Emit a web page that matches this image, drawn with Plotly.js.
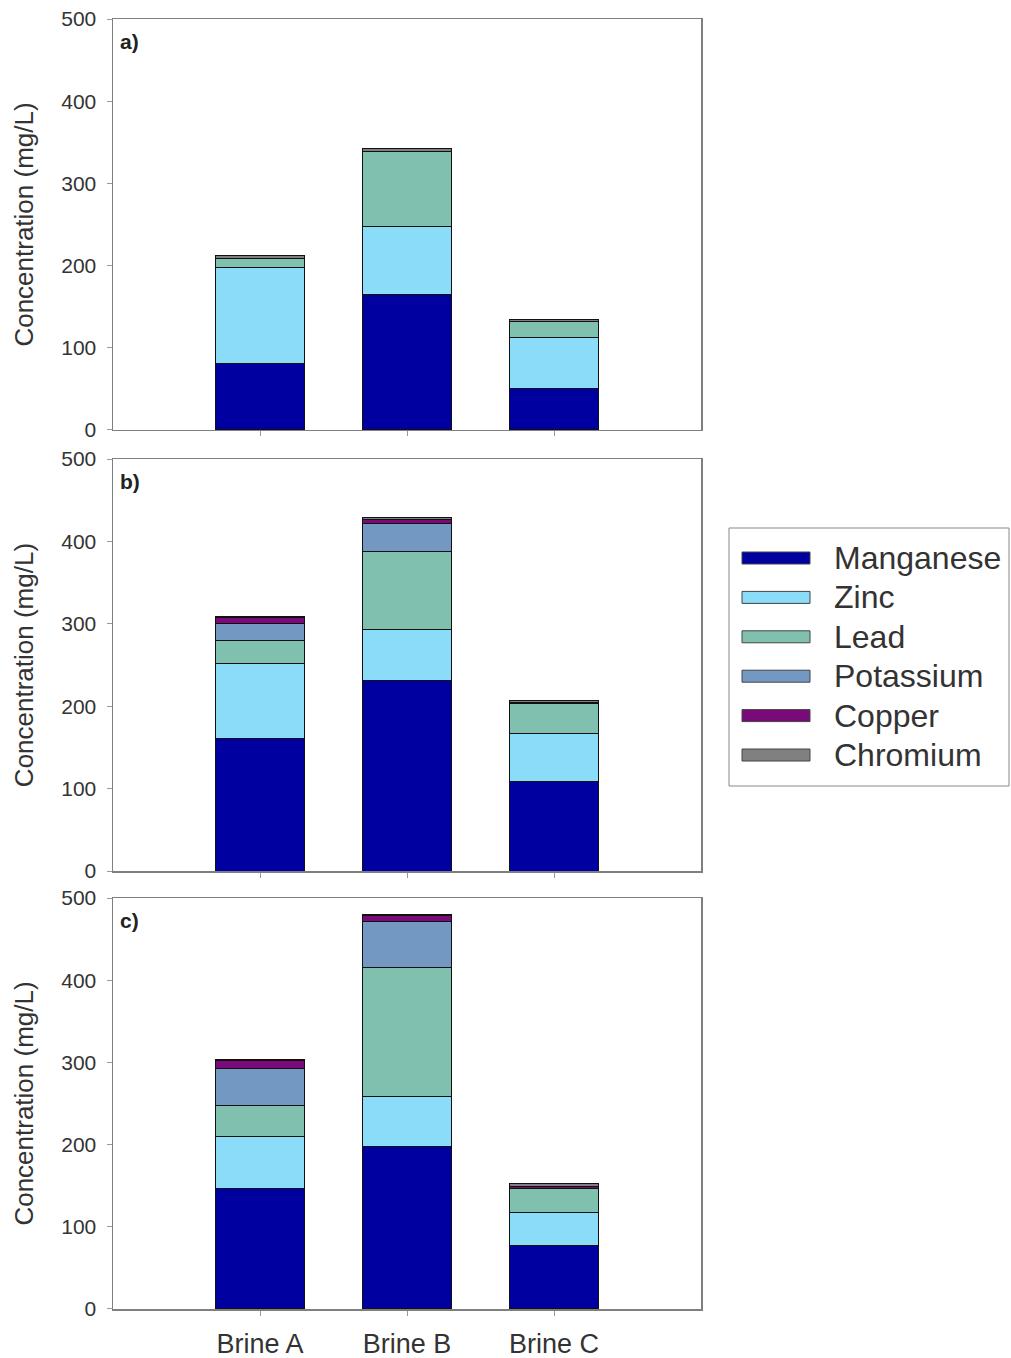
<!DOCTYPE html>
<html>
<head>
<meta charset="utf-8">
<script src="https://cdn.plot.ly/plotly-3.0.1.min.js"></script>
<style>html,body{margin:0;padding:0;background:#fff;}#chart{width:1011px;height:1358px;}</style>
</head>
<body>
<div id="chart"></div>
<script>
// ---- Data ----
const categories = ['Brine A', 'Brine B', 'Brine C'];
const elements = ['Manganese', 'Zinc', 'Lead', 'Potassium', 'Copper', 'Chromium'];
const colors = ['#0000a0', '#8adcf8', '#80c0ae', '#7398c2', '#7a0a7a', '#808080'];
const panelLabels = ['a)', 'b)', 'c)'];
const yTicks = [0, 100, 200, 300, 400, 500];

// Panel a
const aManganese = [81, 165, 50];
const aZinc      = [117, 82, 62];
const aLead      = [11, 92, 20];
const aPotassium = [0, 0, 0];
const aCopper    = [0, 0, 0];
const aChromium  = [3, 3, 3];
// Panel b
const bManganese = [161, 231, 109];
const bZinc      = [91, 62, 58];
const bLead      = [28, 95, 36];
const bPotassium = [21, 34, 0];
const bCopper    = [7, 5, 1];
const bChromium  = [1, 2, 3];
// Panel c
const cManganese = [146, 198, 77];
const cZinc      = [64, 60, 41];
const cLead      = [38, 158, 28];
const cPotassium = [45, 56, 0];
const cCopper    = [9, 7, 3];
const cChromium  = [1, 1, 4];

const panels = [
  [aManganese, aZinc, aLead, aPotassium, aCopper, aChromium],
  [bManganese, bZinc, bLead, bPotassium, bCopper, bChromium],
  [cManganese, cZinc, cLead, cPotassium, cCopper, cChromium]
];

// ---- Build ----
const FONT = 'Liberation Sans, Arial, sans-serif';
const TXT = '#333333';
const axisIds = ['', '2', '3'];
const traces = [];
panels.forEach((series, p) => {
  series.forEach((vals, e) => {
    traces.push({
      type: 'bar',
      x: categories,
      y: vals,
      name: elements[e],
      legendgroup: elements[e],
      showlegend: false,
      xaxis: 'x' + axisIds[p],
      yaxis: 'y' + axisIds[p],
      width: 0.6,
      marker: {color: colors[e], line: {color: '#111', width: 1}},
      hoverinfo: 'x+y+name'
    });
  });
});

const doms = [[0.6814, 1.0], [0.3395, 0.6589], [0.0, 0.3186]];
const layout = {
  width: 1011, height: 1358,
  margin: {l: 113, r: 310, t: 19, b: 49},
  barmode: 'stack',
  paper_bgcolor: '#fff', plot_bgcolor: '#fff',
  font: {family: FONT, color: TXT},
  showlegend: false,
  annotations: [],
  shapes: []
};
doms.forEach((d, p) => {
  const id = axisIds[p];
  layout['xaxis' + id] = {
    domain: [0, 1], anchor: 'y' + id, type: 'category',
    categoryorder: 'array', categoryarray: categories,
    range: [-1, 3], showgrid: false, zeroline: false,
    showline: true, linecolor: '#7f7f7f', linewidth: 1.5, mirror: true,
    ticks: 'outside', ticklen: 5, tickcolor: '#999',
    ticklabelstandoff: 5,
    showticklabels: p === 2,
    tickfont: {size: 27, color: TXT, family: FONT}
  };
  layout['yaxis' + id] = {
    domain: d, anchor: 'x' + id, range: [0, 500],
    tickvals: yTicks, showgrid: false, zeroline: false,
    showline: true, linecolor: '#7f7f7f', linewidth: 1.5, mirror: true,
    ticks: 'outside', ticklen: 5, tickcolor: '#999',
    ticklabelstandoff: 6,
    tickfont: {size: 21, color: TXT, family: FONT},
    title: {text: 'Concentration (mg/L)', font: {size: 26, color: TXT, family: FONT}, standoff: 20}
  };
  layout.annotations.push({
    xref: 'x' + id + ' domain', yref: 'y' + id + ' domain',
    x: 0.008, y: 0.977, xanchor: 'left', yanchor: 'top',
    text: '<b>' + panelLabels[p] + '</b>', showarrow: false,
    font: {size: 21, color: '#222', family: FONT}
  });
});

// ---- Legend (drawn in paper coordinates) ----
const W = 588, H = 1290, L = 113, T = 19;
const px = v => (v - L) / W;
const py = v => (T + H - v) / H;
layout.shapes.push({
  type: 'rect', xref: 'paper', yref: 'paper',
  x0: px(729), x1: px(1009), y0: py(786), y1: py(528),
  line: {color: '#888', width: 1}, fillcolor: '#fff', layer: 'below'
});
elements.forEach((name, i) => {
  const cy = 558 + i * 39.4;
  layout.shapes.push({
    type: 'rect', xref: 'paper', yref: 'paper',
    x0: px(742), x1: px(810), y0: py(cy + 6), y1: py(cy - 6),
    fillcolor: colors[i], line: {color: '#444', width: 1}
  });
  layout.annotations.push({
    xref: 'paper', yref: 'paper', x: px(832), y: py(cy),
    xanchor: 'left', yanchor: 'middle', text: name, showarrow: false,
    font: {size: 32, color: TXT, family: FONT}
  });
});

Plotly.newPlot('chart', traces, layout, {displayModeBar: false, staticPlot: true});
</script>
</body>
</html>
